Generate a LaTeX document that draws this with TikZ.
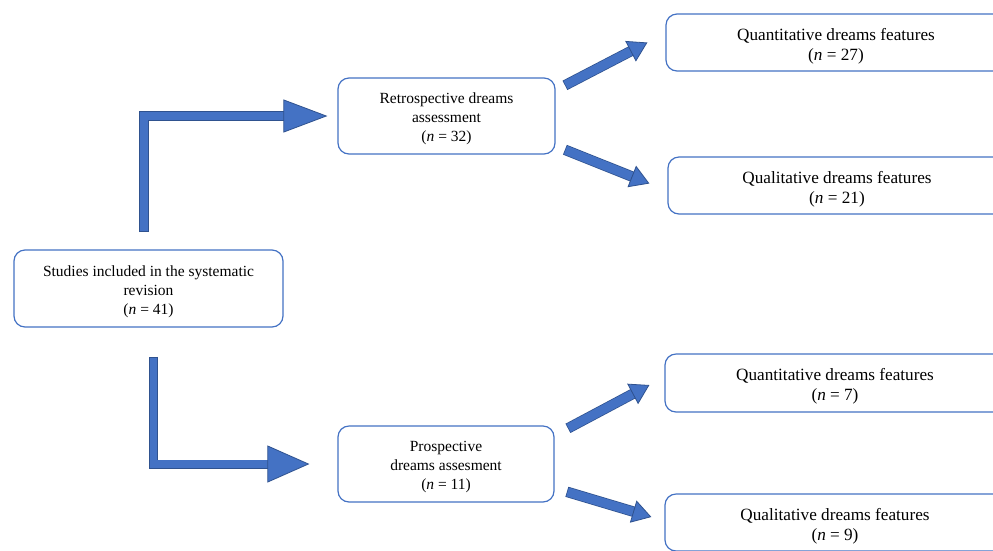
\documentclass[tikz,border=0pt]{standalone}
\usepackage{fontspec}
\setmainfont{Liberation Serif}
\usetikzlibrary{arrows.meta,calc}
\definecolor{boxblue}{HTML}{4472C4}
\definecolor{arrowfill}{HTML}{4472C4}
\definecolor{arrowedge}{HTML}{2F528F}
\newcommand{\mytopstrut}[1]{\rule{0pt}{#1}}
\begin{document}
\begin{tikzpicture}[x=1pt,y=-1pt,
  box/.style={draw=boxblue, line width=1.2pt, rounded corners=11pt, fill=white,
    align=center, font=\fontsize{15.5}{19}\selectfont, inner sep=0pt},
  bigbox/.style={box, font=\fontsize{17.2}{20}\selectfont},
  blockarrow/.style n args={3}{draw=arrowfill, line width=#1, line join=miter,
    preaction={draw=arrowedge, line width=#1+1.5pt, arrows=-, shorten >=#2-1pt, shorten <=-0.75pt},
    -{Triangle[length=#2, width=#3, color=arrowedge, fill=arrowfill, line width=0.8pt]}}]
\useasboundingbox (0,0) rectangle (993,550);
\clip (0,0) rectangle (993,550);
\fill[white] (0,0) rectangle (993,550);

\node[box, minimum width=269pt, minimum height=77pt] (studies) at (148.5,288.5)
  {\mytopstrut{17pt}Studies included in the systematic\\revision\\(\textit{n} = 41)};
\node[box, minimum width=217pt, minimum height=76pt] (retro) at (446.5,116)
  {\mytopstrut{17pt}Retrospective dreams\\assessment\\(\textit{n} = 32)};
\node[box, minimum width=216pt, minimum height=76pt] (prosp) at (446,464)
  {\mytopstrut{17pt}Prospective\\dreams assesment\\(\textit{n} = 11)};
\node[bigbox, minimum width=340pt, minimum height=57pt] (quant1) at (836,42.5)
  {\mytopstrut{19.5pt}Quantitative dreams features\\(\textit{n} = 27)};
\node[bigbox, minimum width=338pt, minimum height=57pt] (qual1) at (837,185.5)
  {\mytopstrut{19.5pt}Qualitative dreams features\\(\textit{n} = 21)};
\node[bigbox, minimum width=340pt, minimum height=58pt] (quant2) at (835,383)
  {\mytopstrut{19.5pt}Quantitative dreams features\\(\textit{n} = 7)};
\node[bigbox, minimum width=340pt, minimum height=57pt] (qual2) at (835,522.5)
  {\mytopstrut{19.5pt}Qualitative dreams features\\(\textit{n} = 9)};

\coordinate (s1) at ($(studies.north)+(-4.5,-18)$);
\coordinate (r1) at ($(retro.west)+(-10,0)$);
\coordinate (s2) at ($(studies.south)+(5,30)$);
\coordinate (p1) at ($(prosp.west)+(-28,0)$);
\draw[blockarrow={8.5pt}{44pt}{33pt}] (s1) |- (r1);
\draw[blockarrow={7.5pt}{42pt}{37pt}] (s2) |- (p1);

\coordinate (ra) at ($(retro.east)+(10,-31)$);
\coordinate (rb) at ($(retro.east)+(10,34)$);
\coordinate (qa) at ($(quant1.west)+(-18,0)$);
\coordinate (qb) at ($(qual1.west)+(-18,-2)$);
\draw[blockarrow={9pt}{19pt}{23pt}] (ra) -- (qa);
\draw[blockarrow={9pt}{19pt}{23pt}] (rb) -- (qb);

\coordinate (pa) at ($(prosp.east)+(14,-36)$);
\coordinate (pb) at ($(prosp.east)+(13,28)$);
\coordinate (qc) at ($(quant2.west)+(-15,2)$);
\coordinate (qd) at ($(qual2.west)+(-13,-5.5)$);
\draw[blockarrow={9pt}{19pt}{23pt}] (pa) -- (qc);
\draw[blockarrow={9pt}{19pt}{23pt}] (pb) -- (qd);
\end{tikzpicture}
\end{document}
